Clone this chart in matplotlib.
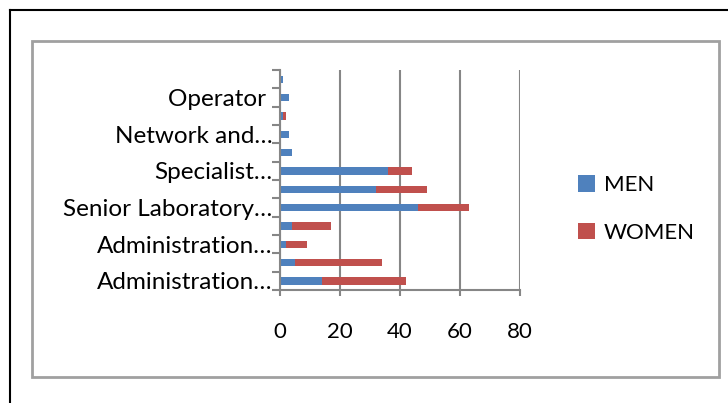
import numpy as np
import matplotlib.pyplot as plt
from matplotlib.lines import Line2D
from matplotlib.patches import Rectangle

# bottom to top; only every other category label is shown in the source chart
categories = ["Administration…", "", "Administration…", "", "Senior Laboratory…", "",
              "Specialist…", "", "Network and…", "", "Operator ", ""]
men = [14, 5, 2, 4, 46, 32, 36, 4, 3, 1, 3, 1]
women = [28, 29, 7, 13, 17, 17, 8, 0, 0, 1, 0, 0]
xticks = [0, 20, 40, 60, 80]

plt.rcParams['font.family'] = ['Lato', 'DejaVu Sans']

fig = plt.figure(figsize=(7.28, 4.03), dpi=100)
W, H = 728, 403

# frames around the chart
fig.add_artist(Line2D([10 / W, 10 / W], [0, 1 - 10 / H], color='black', lw=1.5))
fig.add_artist(Line2D([10 / W, 1], [1 - 10 / H, 1 - 10 / H], color='black', lw=1.5))
fig.add_artist(Rectangle((32 / W, 1 - 377 / H), (719 - 32) / W, (377 - 41) / H,
                         fill=False, edgecolor='#a0a0a0', lw=2, transform=fig.transFigure))

ax = fig.add_axes([280 / W, 1 - 290 / H, 240 / W, 220 / H])
y = np.arange(len(categories))
blue = '#4F81BD'
red = '#C0504D'
ax.barh(y, men, height=0.4, color=blue, label='MEN')
ax.barh(y, women, left=men, height=0.4, color=red, label='WOMEN')

ax.set_xlim(0, 80)
ax.set_ylim(-0.5, len(categories) - 0.5)
ax.set_xticks(xticks)
ax.set_xticklabels([str(v) for v in xticks], fontsize=16)
ax.set_yticks(y[::2])
ax.set_yticklabels(categories[::2], fontsize=17.5)
ax.set_yticks(np.arange(-0.5, len(categories), 1), minor=True)
ax.tick_params(axis='y', which='major', length=0, pad=5.5)
ax.tick_params(axis='y', which='minor', length=6, width=1.5, color='#868686')
ax.tick_params(axis='x', length=4, width=1.5, color='#868686', pad=19)

ax.grid(axis='x', color='#868686', lw=1.5)
ax.set_axisbelow(True)
for s in ['top', 'right']:
    ax.spines[s].set_visible(False)
for s in ['left', 'bottom']:
    ax.spines[s].set_color('#868686')
    ax.spines[s].set_linewidth(1.5)

fig.legend(loc='center left', bbox_to_anchor=(558 / W, 1 - 209 / H), frameon=False,
           fontsize=16, handlelength=0.75, handleheight=0.75, handletextpad=0.4,
           labelspacing=1.25)

fig.savefig('out.png', dpi=100)
